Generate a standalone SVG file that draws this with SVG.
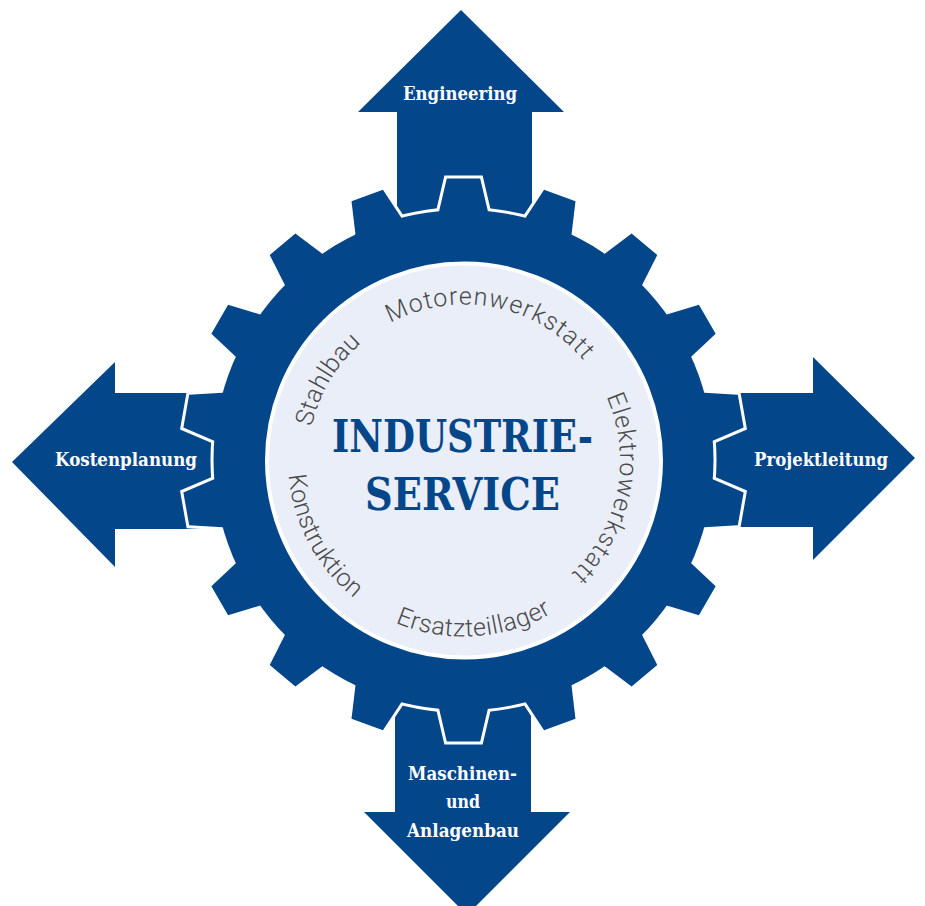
<svg xmlns="http://www.w3.org/2000/svg" xmlns:xlink="http://www.w3.org/1999/xlink" width="925" height="906" viewBox="0 0 925 906">
<style>
.blue{fill:#03468A}
.lbl{font-family:"DejaVu Serif","Liberation Serif",serif;font-weight:bold;font-size:19px;fill:#ffffff}
.ring{font-family:Roboto,"Liberation Sans",sans-serif;font-weight:300;font-size:25px;fill:#4A4A4A}
.title{font-family:"DejaVu Serif","Liberation Serif",serif;font-weight:bold;font-size:44px;fill:#03468A}
</style>
<defs>
<polygon id="tooth" points="-22.45,-228.9 -24.40,-248.81 -16.72,-281.5 16.72,-281.5 24.40,-248.81 22.45,-228.9"/>
<path id="cw" d="M464,616.5 A156,156 0 1 1 464,304.5 A156,156 0 1 1 464,616.5"/>
<path id="ccw" d="M464,284.5 A176,176 0 1 0 464,636.5 A176,176 0 1 0 464,284.5"/>
</defs>
<rect width="925" height="906" fill="#ffffff"/>
<g id="arrow-engineering">
<polygon class="blue" points="461,10 564,112 532,112 532,260 397,260 397,112 358,112"/>
<text class="lbl" x="403" y="100" textLength="114" lengthAdjust="spacingAndGlyphs">Engineering</text>
</g>
<g id="arrow-kostenplanung">
<polygon class="blue" points="12,462 115,362 115,393 260,393 260,529 115,529 115,567"/>
<text class="lbl" x="55" y="465.5" textLength="142" lengthAdjust="spacingAndGlyphs">Kostenplanung</text>
</g>
<g id="arrow-projektleitung">
<polygon class="blue" points="915,458 813,357 813,393 680,393 680,527 813,527 813,560"/>
<text class="lbl" x="754" y="466" textLength="134" lengthAdjust="spacingAndGlyphs">Projektleitung</text>
</g>
<g id="arrow-maschinenbau">
<polygon class="blue" points="467,915 570,812 531,812 531,660 395,660 395,812 364,812"/>
<text class="lbl" x="408" y="780" textLength="109" lengthAdjust="spacingAndGlyphs">Maschinen-</text>
<text class="lbl" x="446" y="808" textLength="34" lengthAdjust="spacingAndGlyphs">und</text>
<text class="lbl" x="407" y="837" textLength="112" lengthAdjust="spacingAndGlyphs">Anlagenbau</text>
</g>
<g id="gear" transform="translate(463.5,460)">
<g fill="#ffffff" stroke="#ffffff" stroke-width="6" stroke-linejoin="miter">
<circle r="250"/>
<use xlink:href="#tooth" transform="rotate(0)"/>
<use xlink:href="#tooth" transform="rotate(20)"/>
<use xlink:href="#tooth" transform="rotate(40)"/>
<use xlink:href="#tooth" transform="rotate(60)"/>
<use xlink:href="#tooth" transform="rotate(80)"/>
<use xlink:href="#tooth" transform="rotate(100)"/>
<use xlink:href="#tooth" transform="rotate(120)"/>
<use xlink:href="#tooth" transform="rotate(140)"/>
<use xlink:href="#tooth" transform="rotate(160)"/>
<use xlink:href="#tooth" transform="rotate(180)"/>
<use xlink:href="#tooth" transform="rotate(200)"/>
<use xlink:href="#tooth" transform="rotate(220)"/>
<use xlink:href="#tooth" transform="rotate(240)"/>
<use xlink:href="#tooth" transform="rotate(260)"/>
<use xlink:href="#tooth" transform="rotate(280)"/>
<use xlink:href="#tooth" transform="rotate(300)"/>
<use xlink:href="#tooth" transform="rotate(320)"/>
<use xlink:href="#tooth" transform="rotate(340)"/>
</g>
<g class="blue">
<circle r="250"/>
<use xlink:href="#tooth" transform="rotate(0)"/>
<use xlink:href="#tooth" transform="rotate(20)"/>
<use xlink:href="#tooth" transform="rotate(40)"/>
<use xlink:href="#tooth" transform="rotate(60)"/>
<use xlink:href="#tooth" transform="rotate(80)"/>
<use xlink:href="#tooth" transform="rotate(100)"/>
<use xlink:href="#tooth" transform="rotate(120)"/>
<use xlink:href="#tooth" transform="rotate(140)"/>
<use xlink:href="#tooth" transform="rotate(160)"/>
<use xlink:href="#tooth" transform="rotate(180)"/>
<use xlink:href="#tooth" transform="rotate(200)"/>
<use xlink:href="#tooth" transform="rotate(220)"/>
<use xlink:href="#tooth" transform="rotate(240)"/>
<use xlink:href="#tooth" transform="rotate(260)"/>
<use xlink:href="#tooth" transform="rotate(280)"/>
<use xlink:href="#tooth" transform="rotate(300)"/>
<use xlink:href="#tooth" transform="rotate(320)"/>
<use xlink:href="#tooth" transform="rotate(340)"/>
</g>
</g>
<g id="center">
<circle cx="464" cy="460.5" r="197" fill="#E9EEF8" stroke="#ffffff" stroke-width="4"/>
<text class="title" x="332" y="452" textLength="261" lengthAdjust="spacingAndGlyphs">INDUSTRIE-</text>
<text class="title" x="365" y="510" textLength="195" lengthAdjust="spacingAndGlyphs">SERVICE</text>
</g>
<g id="ring-labels">
<text class="ring" letter-spacing="0.3"><textPath xlink:href="#cw" startOffset="279">Stahlbau</textPath></text>
<text class="ring" letter-spacing="1.2"><textPath xlink:href="#cw" startOffset="413">Motorenwerkstatt</textPath></text>
<text class="ring" letter-spacing="1"><textPath xlink:href="#cw" startOffset="669">Elektrowerkstatt</textPath></text>
<text class="ring" letter-spacing="0.3"><textPath xlink:href="#ccw" startOffset="291">Konstruktion</textPath></text>
<text class="ring" letter-spacing="0.5"><textPath xlink:href="#ccw" startOffset="482">Ersatzteillager</textPath></text>
</g>
<g id="connectors"/>
</svg>
